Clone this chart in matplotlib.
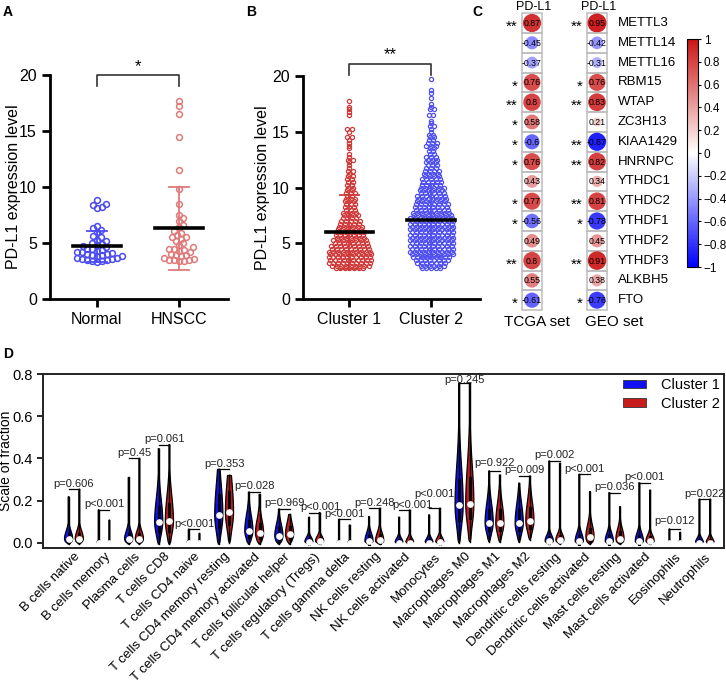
import numpy as np
import matplotlib
matplotlib.use('Agg')
import matplotlib.pyplot as plt
from matplotlib import font_manager
from matplotlib.patches import Rectangle, Circle, Patch
from matplotlib.colors import LinearSegmentedColormap, Normalize
from matplotlib.cm import ScalarMappable

_names = sorted({f.name for f in font_manager.fontManager.ttflist})
_font = next((n for n in ['Liberation Sans', 'Arimo', 'Arial', 'Helvetica', 'Nimbus Sans',
                          'Roboto', 'Noto Sans'] if n in _names), 'DejaVu Sans')
plt.rcParams['font.family'] = [_font, 'DejaVu Sans']

# ---------------- data ----------------
# Panel A
a_groups = ['Normal', 'HNSCC']
a_normal = [8.8, 8.5, 8.4, 8.2, 8.1, 6.5, 6.3, 6.2, 6.0, 5.6, 5.5, 5.3, 5.2, 5.0, 4.9,
            4.8, 4.7, 4.6, 4.5, 4.5, 4.4, 4.3, 4.2, 4.2, 4.1, 4.0, 4.0, 3.9, 3.9, 3.8,
            3.8, 3.7, 3.7, 3.6, 3.6, 3.5, 3.5, 3.4, 3.4, 3.3]
a_hnscc = [17.7, 17.2, 16.5, 14.5, 11.5, 9.8, 8.5, 7.5, 7.2, 7.0, 6.6, 6.4, 6.1, 5.9,
           5.7, 5.5, 5.5, 5.4, 5.2, 5.0, 4.8, 4.6, 4.5, 4.5, 4.4, 4.3, 4.2, 4.0, 3.9,
           3.9, 3.8, 3.7, 3.6, 3.5, 3.5, 3.5, 3.4, 3.4]
a_mean = [4.7, 6.3]
a_sd_upper = [6.1, 10.0]
a_sd_lower = [3.3, 2.6]
a_sig = '*'

# Panel B (values read as counts per level)
b_groups = ['Cluster 1', 'Cluster 2']
b_c1_levels = [2.75, 3.0, 3.25, 3.5, 3.75, 4.0, 4.25, 4.5, 4.75, 5.0, 5.25, 5.5, 5.75, 6.0,
               6.25, 6.5, 6.75, 7.0, 7.25, 7.5, 7.75, 8.0, 8.25, 8.5, 8.75, 9.0, 9.25, 9.5,
               9.75, 10.0, 10.25, 10.5, 10.75, 11.0, 11.25, 11.5, 11.75, 12.0, 12.25, 12.5,
               12.75, 13.0, 13.5, 13.75, 14.0, 14.25, 14.5, 15.0, 15.25, 16.5, 16.75, 17.0,
               17.25, 17.75]
b_c1_counts = [7, 9, 10, 10, 10, 10, 10, 9, 9, 8, 8, 7, 7, 7, 6, 6, 5, 5, 4, 4, 4, 3,
               3, 3, 3, 3, 2, 3, 2, 2, 2, 2, 2, 2, 1, 2, 1, 1, 1, 2, 1, 1, 1, 1, 1, 1, 2, 1,
               2, 1, 1, 1, 1, 1]
b_c2_levels = [2.75, 3.0, 3.25, 3.5, 3.75, 4.0, 4.25, 4.5, 4.75, 5.0, 5.25, 5.5, 5.75, 6.0,
               6.25, 6.5, 6.75, 7.0, 7.25, 7.5, 7.75, 8.0, 8.25, 8.5, 8.75, 9.0, 9.25, 9.5,
               9.75, 10.0, 10.25, 10.5, 10.75, 11.0, 11.25, 11.5, 11.75, 12.0, 12.25, 12.5,
               12.75, 13.0, 13.25, 13.5, 13.75, 14.0, 14.25, 14.5, 14.75, 15.0, 15.25, 15.5,
               15.75, 16.0, 16.5, 17.0, 17.25, 17.5, 18.0, 18.5, 18.75, 19.75]
b_c2_counts = [5, 6, 7, 8, 9, 10, 10, 10, 10, 10, 10, 10, 10, 10, 10, 10, 10, 10, 10, 9,
               9, 8, 8, 8, 7, 7, 7, 6, 6, 6, 5, 5, 5, 4, 4, 4, 3, 3, 3, 3, 3, 2, 2, 2, 3,
               3, 2, 2, 2, 1, 1, 2, 1, 1, 2, 2, 1, 1, 1, 1, 1, 1]
b_mean = [6.0, 7.05]
b_sd_upper = [9.3, 10.3]
b_sd_lower = [2.7, 3.75]
b_sig = '**'

# Panel C
c_genes = ['METTL3', 'METTL14', 'METTL16', 'RBM15', 'WTAP', 'ZC3H13', 'KIAA1429', 'HNRNPC',
           'YTHDC1', 'YTHDC2', 'YTHDF1', 'YTHDF2', 'YTHDF3', 'ALKBH5', 'FTO']
c_tcga = [0.87, -0.45, -0.37, 0.76, 0.8, 0.58, -0.6, 0.76, 0.43, 0.77, -0.56, 0.49, 0.8, 0.55, -0.61]
c_geo = [0.95, -0.42, -0.31, 0.76, 0.83, 0.21, -0.87, 0.82, 0.34, 0.81, -0.78, 0.45, 0.91, 0.38, -0.76]
c_tcga_stars = ['**', '', '', '*', '**', '*', '*', '*', '', '*', '*', '', '**', '', '*']
c_geo_stars = ['**', '', '', '*', '**', '', '**', '**', '', '**', '*', '', '**', '', '*']
c_sets = ['TCGA set', 'GEO set']
c_col_title = 'PD-L1'

# Panel D
d_cells = ['B cells native', 'B cells memory', 'Plasma cells', 'T cells CD8', 'T cells CD4 naive',
           'T cells CD4 memory resting', 'T cells CD4 memory activated', 'T cells follicular helper',
           'T cells regulatory (Tregs)', 'T cells gamma delta', 'NK cells resting',
           'NK cells activated', 'Monocytes', 'Macrophages M0', 'Macrophages M1', 'Macrophages M2',
           'Dendritic cells resting', 'Dendritic cells activated', 'Mast cells resting',
           'Mast cells activated', 'Eosinophils', 'Neutrophils']
d_c1_max = [0.219, 0.157, 0.31, 0.447, 0.065, 0.349, 0.241, 0.161, 0.122, 0.112, 0.125, 0.122,
            0.133, 0.757, 0.341, 0.283, 0.388, 0.325, 0.238, 0.285, 0.066, 0.207]
d_c1_median = [0.02, 0.0, 0.02, 0.10, 0.0, 0.132, 0.058, 0.034, 0.005, 0.0, 0.01, 0.0, 0.0,
               0.18, 0.096, 0.094, 0.01, 0.01, 0.01, 0.01, 0.0, 0.0]
d_c1_spread = [0.02, 0.004, 0.02, 0.06, 0.004, 0.08, 0.04, 0.03, 0.012, 0.004, 0.02, 0.012,
               0.012, 0.10, 0.05, 0.05, 0.015, 0.02, 0.02, 0.02, 0.004, 0.012]
d_c2_max = [0.254, 0.108, 0.40, 0.466, 0.045, 0.32, 0.23, 0.135, 0.144, 0.085, 0.164, 0.156,
            0.164, 0.757, 0.322, 0.317, 0.377, 0.243, 0.172, 0.25, 0.05, 0.207]
d_c2_median = [0.02, 0.0, 0.02, 0.104, 0.0, 0.146, 0.047, 0.041, 0.01, 0.0, 0.012, 0.0, 0.005,
               0.186, 0.094, 0.105, 0.015, 0.03, 0.02, 0.01, 0.0, 0.0]
d_c2_spread = [0.02, 0.004, 0.02, 0.065, 0.004, 0.08, 0.035, 0.03, 0.012, 0.004, 0.02, 0.012,
               0.012, 0.10, 0.05, 0.05, 0.015, 0.03, 0.025, 0.015, 0.004, 0.012]
d_pvals = ['p=0.606', 'p<0.001', 'p=0.45', 'p=0.061', 'p<0.001', 'p=0.353', 'p=0.028', 'p=0.969',
           'p<0.001', 'p<0.001', 'p=0.248', 'p<0.001', 'p<0.001', 'p=0.245', 'p=0.922', 'p=0.009',
           'p=0.002', 'p<0.001', 'p=0.036', 'p<0.001', 'p=0.012', 'p=0.022']
d_series = ['Cluster 1', 'Cluster 2']

# ---------------- figure ----------------
W_PX, H_PX = 726, 689
fig = plt.figure(figsize=(W_PX / 100, H_PX / 100), dpi=100)


def px_axes(l, t, r, b):
    return fig.add_axes([l / W_PX, 1 - b / H_PX, (r - l) / W_PX, (b - t) / H_PX])


def fig_text(x, y, s, **kw):
    fig.text(x / W_PX, 1 - y / H_PX, s, **kw)


def swarm_offsets(values, py_per_unit, px_per_unit, diam):
    vals = np.asarray(values, float)
    order = np.argsort(vals)
    cands = [0.0]
    for k in range(1, 120):
        cands += [k * 0.5, -k * 0.5]
    placed = []
    offs = np.zeros(len(vals))
    for idx in order:
        y = vals[idx] * py_per_unit
        near = [(px, py) for (px, py) in placed if abs(py - y) < diam]
        for c in cands:
            if all((px - c) ** 2 + (py - y) ** 2 >= diam ** 2 for (px, py) in near):
                break
        placed.append((c, y))
        offs[idx] = c / px_per_unit
    return offs


def style_scatter_axes(ax, labels, label_x):
    ax.set_xlim(-0.57, 1.6)
    ax.set_ylim(0, 20)
    for s in ['top', 'right']:
        ax.spines[s].set_visible(False)
    for s in ['left', 'bottom']:
        ax.spines[s].set_linewidth(2)
    ax.set_xticks([0, 1])
    ax.set_xticklabels(labels, fontsize=11.5)
    ax.set_yticks([0, 5, 10, 15, 20])
    ax.tick_params(axis='both', width=2, length=6, labelsize=11.5)
    ax.set_ylabel('PD-L1 expression level', fontsize=11.5)
    ax.yaxis.set_label_coords(label_x, 0.5)


def draw_stats(ax, i, mean, up, lo, color):
    ax.plot([i, i], [lo, up], color=color, lw=1.3, zorder=1)
    ax.plot([i - 0.12, i + 0.12], [up, up], color=color, lw=1.3, zorder=1)
    ax.plot([i - 0.12, i + 0.12], [lo, lo], color=color, lw=1.3, zorder=1)
    ax.plot([i - 0.29, i + 0.29], [mean, mean], color='black', lw=2.6, zorder=4)


def draw_bracket(ax, y, leg, txt, ty):
    ax.plot([0, 0, 1, 1], [y - leg, y, y, y - leg], color='#333333', lw=1.2, clip_on=False)
    ax.text(0.5, ty, txt, ha='center', va='center', fontsize=12, clip_on=False)


# ---- Panel A ----
axA = px_axes(50, 75, 228, 299)
style_scatter_axes(axA, a_groups, -0.165)
a_cols = ['#4b4bf2', '#e07a7a']
for i, (vals, col) in enumerate(zip([a_normal, a_hnscc], a_cols)):
    offs = swarm_offsets(vals, 11.2, 82, 5.0)
    draw_stats(axA, i, a_mean[i], a_sd_upper[i], a_sd_lower[i], col)
    axA.plot(i + offs, vals, 'o', ms=4.2, mfc='none', mec=col, mew=1.1, zorder=2,
             clip_on=False)
draw_bracket(axA, 20, 0.95, a_sig, 20.75)

# ---- Panel B ----
axB = px_axes(303, 76, 480, 299)
style_scatter_axes(axB, b_groups, -0.185)
b_cols = ['#d03a3a', '#5050f0']
sx = 4.6 / 82
for i, (lev, cnt, col) in enumerate(zip([b_c1_levels, b_c2_levels],
                                        [b_c1_counts, b_c2_counts], b_cols)):
    xs, ys = [], []
    for r, (v, n) in enumerate(zip(lev, cnt)):
        shift = 0.25 * sx if (r % 2 and n > 1) else 0.0
        for k in range(n):
            xs.append(i + (k - (n - 1) / 2) * sx + shift)
            ys.append(v)
    draw_stats(axB, i, b_mean[i], b_sd_upper[i], b_sd_lower[i], col)
    axB.plot(xs, ys, 'o', ms=3.0, mfc='none', mec=col, mew=0.9, zorder=2)
draw_bracket(axB, 21.1, 1.0, b_sig, 21.9)

# ---- Panel C ----
axC = px_axes(470, 0, 726, 340)
axC.set_xlim(470, 726)
axC.set_ylim(340, 0)
axC.axis('off')
cmap = LinearSegmentedColormap.from_list('bwr_c', ['#0000ff', '#ffffff', '#cc1515'])
norm = Normalize(-1, 1)
col_x = [532, 597]
row_y0, row_h, cell_w = 23, 19.8, 19.5
for j, (vals, stars) in enumerate(zip([c_tcga, c_geo], [c_tcga_stars, c_geo_stars])):
    cx = col_x[j]
    axC.text(cx + 2, 7, c_col_title, ha='center', va='center', fontsize=9)
    for i, (v, st) in enumerate(zip(vals, stars)):
        cy = row_y0 + i * row_h
        axC.add_patch(Rectangle((cx - cell_w / 2, cy - row_h / 2), cell_w, row_h,
                                fill=False, edgecolor='#bdbdbd', lw=1.1))
        axC.add_patch(Circle((cx, cy), 0.5 * cell_w * np.sqrt(abs(v)),
                             facecolor=cmap(norm(v)), edgecolor='none'))
        axC.text(cx, cy + 0.5, f'{v:g}', ha='center', va='center', fontsize=6.3)
        if st:
            axC.text(cx - 14, cy + 4, st, ha='right', va='center', fontsize=11)
for i, g in enumerate(c_genes):
    axC.text(618, row_y0 + i * row_h, g, ha='left', va='center', fontsize=9.5)
axC.text(537, 322, c_sets[0], ha='center', va='center', fontsize=11)
axC.text(614, 322, c_sets[1], ha='center', va='center', fontsize=11)

cax = px_axes(687, 39, 698, 267)
cb = fig.colorbar(ScalarMappable(norm=norm, cmap=cmap), cax=cax,
                  ticks=np.linspace(-1, 1, 11))
cb.ax.set_yticklabels(['\u22121', '\u22120.8', '\u22120.6', '\u22120.4', '\u22120.2', '0',
                       '0.2', '0.4', '0.6', '0.8', '1'])
cb.ax.tick_params(labelsize=8.5, length=2.5, width=0.8, pad=1.5)
cb.outline.set_linewidth(0.8)

# ---- Panel D ----
axD = px_axes(43, 374, 724, 548)
axD.set_xlim(-1.03, 21.64)
axD.set_ylim(-0.024, 0.8)
for s in axD.spines.values():
    s.set_linewidth(1.4)
    s.set_color('#222222')
d_cols = ['#1010f0', '#c81c1c']


def draw_violin(ax, x, top, med, spread, color, W):
    lo = max(-0.006, med - 1.8 * spread)
    ys = np.linspace(lo, top, 400)
    s = np.where(ys < med, spread, spread * 1.8)
    w = W * np.exp(-0.5 * ((ys - med) / s) ** 2)
    w *= np.sqrt(np.clip((ys - lo) / 0.012, 0, 1))
    w = np.maximum(w, 0.014)
    w[0] = 0
    w[-1] = 0
    ax.fill(np.concatenate([x - w, (x + w)[::-1]]), np.concatenate([ys, ys[::-1]]),
            facecolor=color, edgecolor='black', lw=0.9, zorder=2)
    ax.plot([x, x], [lo, top], color='black', lw=1.0, zorder=3)
    q1 = max(lo, med - 0.7 * spread)
    q3 = med + 1.2 * spread
    ax.plot([x, x], [q1, q3], color='black', lw=2.2, zorder=3)
    ax.plot([x], [med], 'o', ms=3.8, mfc='white', mec='white', zorder=4)


text_dy = {11: 0.024, 12: 0.07, 13: 0.013, 14: 0.039, 20: 0.04}
text_dx = {8: 0.2, 11: 0.27}
dx = 0.178
for i in range(len(d_cells)):
    tiny = d_c1_spread[i] < 0.006
    Wv = 0.07 if tiny else 0.135
    draw_violin(axD, i - dx, d_c1_max[i], d_c1_median[i], d_c1_spread[i], d_cols[0], Wv)
    draw_violin(axD, i + dx, d_c2_max[i], d_c2_median[i], d_c2_spread[i], d_cols[1], Wv)
    H = max(d_c1_max[i], d_c2_max[i])
    axD.plot([i - dx, i + dx], [H, H], color='black', lw=0.9, zorder=3)
    axD.text(i + text_dx.get(i, 0), H + text_dy.get(i, 0.027), d_pvals[i], ha='center',
             va='center', fontsize=8, color='#222222', zorder=5)

axD.set_xticks(range(len(d_cells)))
axD.set_xticklabels(d_cells, rotation=45, ha='right', rotation_mode='anchor', fontsize=9.5)
axD.tick_params(axis='x', length=0, pad=2)
axD.set_yticks([0, 0.2, 0.4, 0.6, 0.8])
axD.set_yticklabels(['0.0', '0.2', '0.4', '0.6', '0.8'])
axD.tick_params(axis='y', labelsize=10.5, length=4, width=1.2)
axD.set_ylabel('Scale of fraction', fontsize=10)
axD.yaxis.set_label_coords(-0.044, 0.5)
handles = [Patch(facecolor=d_cols[0], edgecolor='#333333', lw=0.6),
           Patch(facecolor=d_cols[1], edgecolor='#333333', lw=0.6)]
axD.legend(handles, d_series, loc='upper right', frameon=False, fontsize=10.5,
           handlelength=1.6, handleheight=0.5, labelspacing=0.3, borderaxespad=0.1,
           borderpad=0.2, handletextpad=1.0)

# panel labels
for lab, x, y in [('A', 3, 16), ('B', 246, 16), ('C', 472, 16), ('D', 3, 358)]:
    fig_text(x, y, lab, fontsize=10, fontweight='bold', ha='left', va='baseline')

fig.savefig('out.png', dpi=100)
